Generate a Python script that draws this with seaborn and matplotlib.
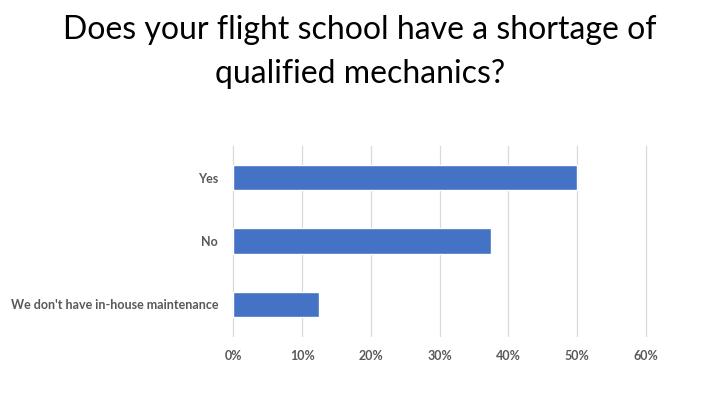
import matplotlib
matplotlib.use("Agg")
import matplotlib.pyplot as plt
import seaborn as sns
import pandas as pd
from matplotlib.ticker import PercentFormatter, MultipleLocator

categories = ["Yes", "No", "We don't have in-house maintenance"]
values = [0.50, 0.375, 0.125]
title = "Does your flight school have a shortage of\nqualified mechanics?"

sns.set_theme(style="white")
plt.rcParams['font.family'] = ['Lato', 'DejaVu Sans']

df = pd.DataFrame({"category": categories, "value": values})

fig = plt.figure(figsize=(7.2, 4.05), dpi=100)
ax = fig.add_axes([0.324, 0.170, 0.573, 0.470])

sns.barplot(data=df, y="category", x="value", color="#4472C4", width=0.4,
            saturation=1, ax=ax, zorder=3)

ax.set_xlim(0, 0.6)
ax.set_ylim(2.5, -0.5)
ax.xaxis.set_major_locator(MultipleLocator(0.1))
ax.xaxis.set_major_formatter(PercentFormatter(1.0, decimals=0))
ax.grid(axis="x", color="#D9D9D9", linewidth=0.9, zorder=0)
for gl in ax.get_xgridlines():
    gl.set_clip_on(False)
ax.grid(axis="y", visible=False)
for s in ax.spines.values():
    s.set_visible(False)
ax.set_xlabel("")
ax.set_ylabel("")
ax.tick_params(axis="both", length=0, colors="#595959")
ax.tick_params(axis="y", pad=11)
ax.tick_params(axis="x", pad=10)
for lab in ax.get_xticklabels() + ax.get_yticklabels():
    lab.set_fontweight("bold")
    lab.set_fontsize(9)
    lab.set_color("#595959")

fig.text(0.5, 0.962, title, ha="center", va="top", fontsize=23,
         color="black", linespacing=1.55)

fig.savefig("out.png", dpi=100)
